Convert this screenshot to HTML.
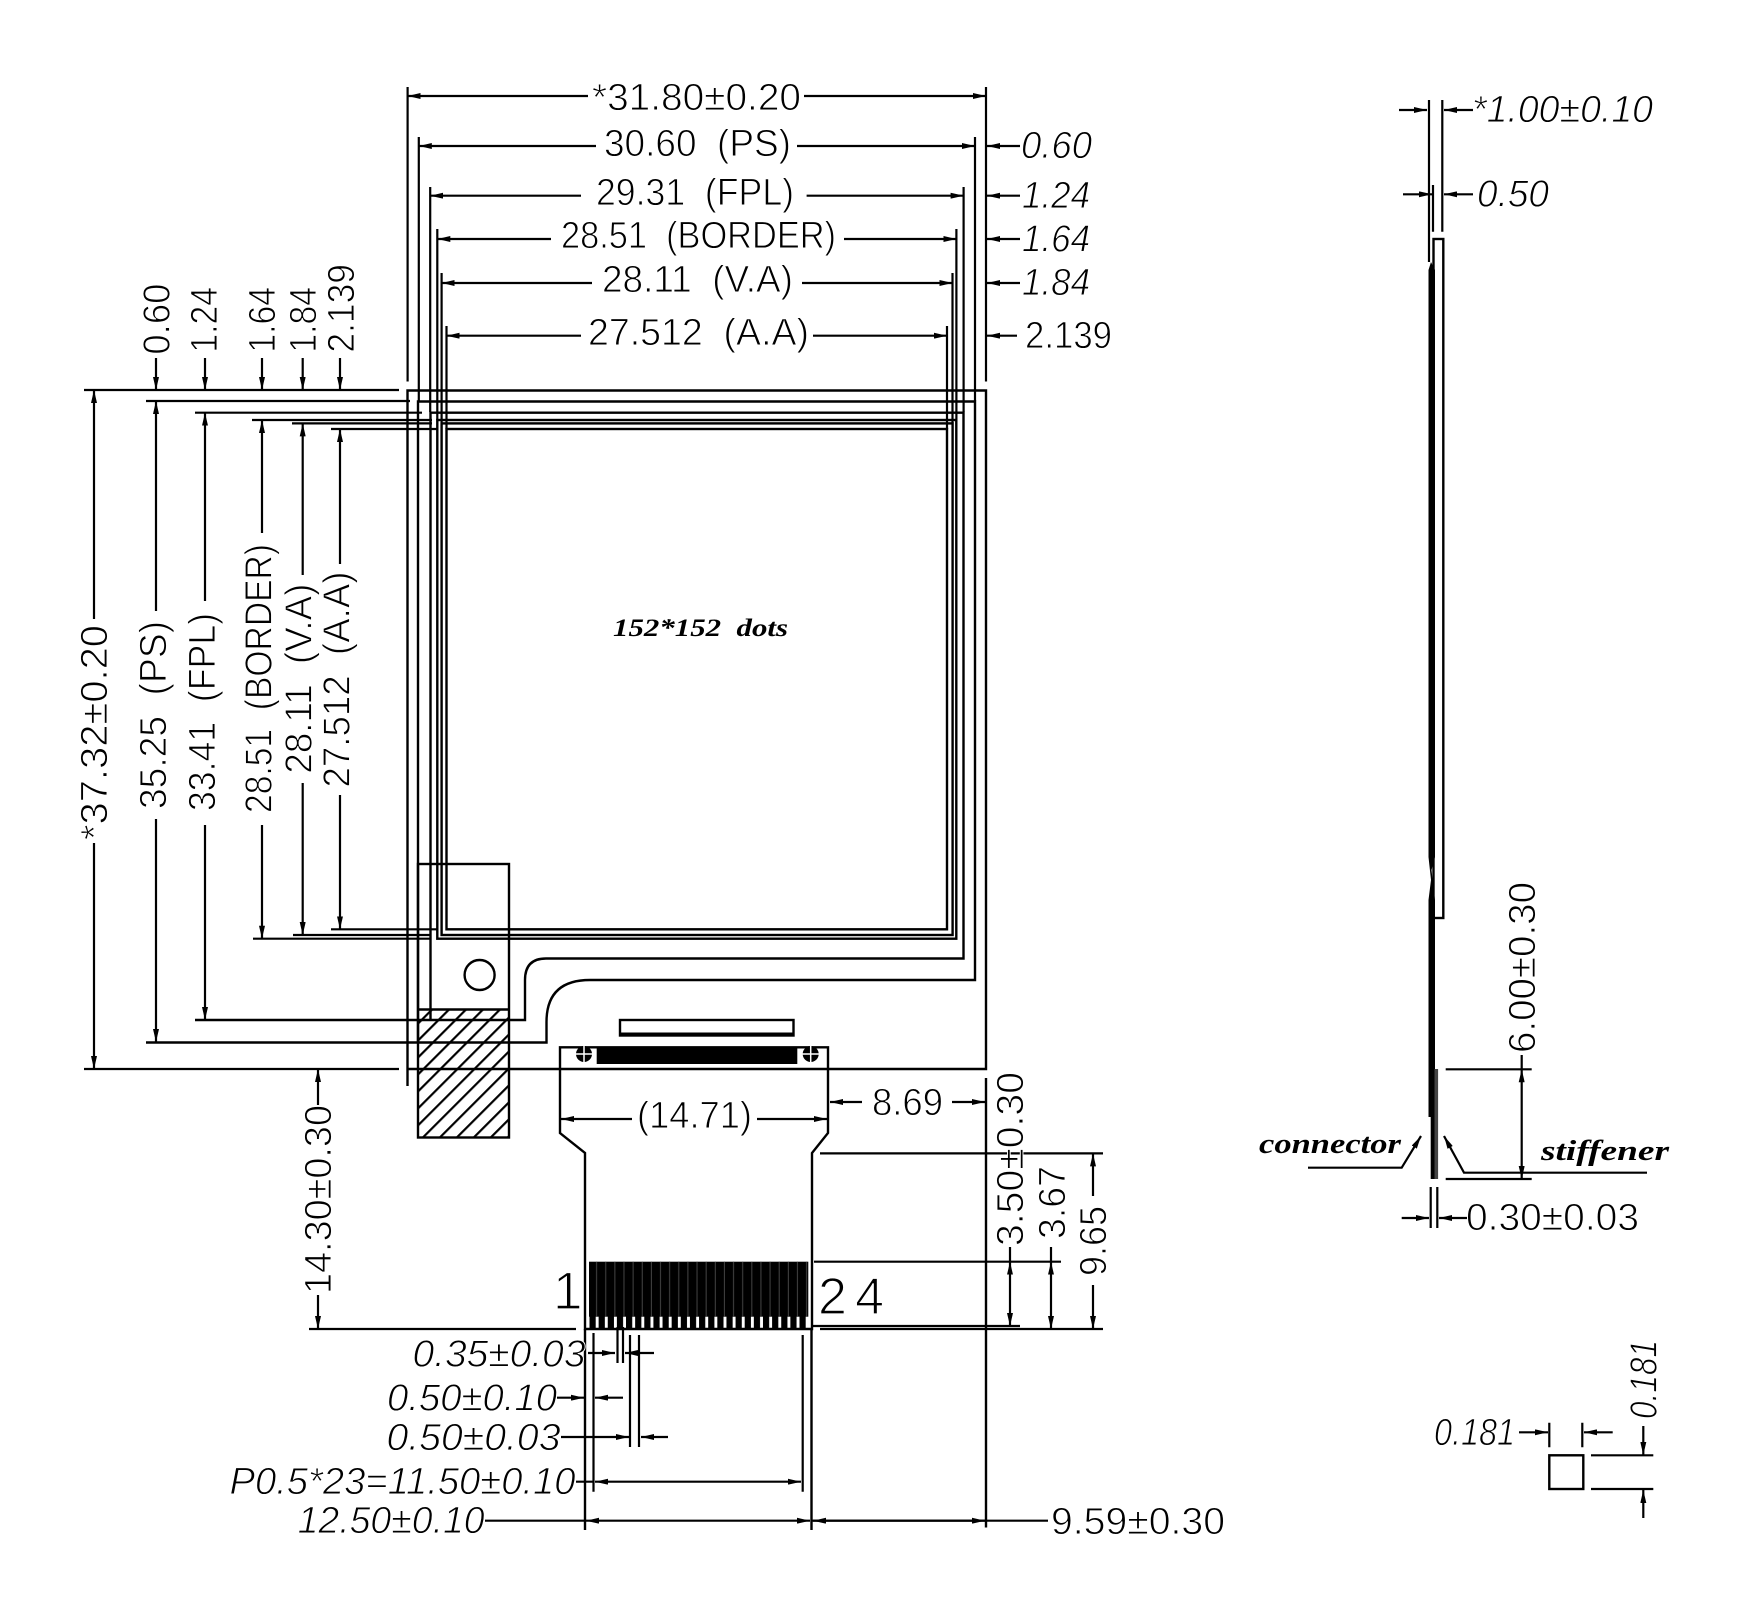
<!DOCTYPE html>
<html><head><meta charset="utf-8"><title>Drawing</title>
<style>
html,body{margin:0;padding:0;background:#fff}
svg{display:block;filter:blur(.35px)}
text{font-family:"Liberation Sans",sans-serif;font-size:38px;fill:#000;stroke:#fff;stroke-width:.9px}
.i{font-style:italic}
.lab{font-family:"Liberation Serif",serif;font-style:italic;font-weight:bold;stroke:none}
.l{fill:none;stroke:#000;stroke-width:2.4}
.d{fill:none;stroke:#000;stroke-width:2.2}
.a{fill:none;stroke:#000;stroke-width:2.2;marker-end:url(#a)}
</style></head><body>
<svg xmlns="http://www.w3.org/2000/svg" width="1757" height="1608" viewBox="0 0 1757 1608">
<defs>
<marker id="a" markerUnits="userSpaceOnUse" markerWidth="13" markerHeight="6" refX="13" refY="3" orient="auto"><path d="M0 0L13 3L0 6z" fill="#000"/></marker>
<pattern id="h" width="12" height="12" patternUnits="userSpaceOnUse" patternTransform="rotate(-45 418 1138)"><rect x="0" y="0" width="12" height="12" fill="#fff"/><rect x="0" y="0" width="12" height="2.2" fill="#000"/></pattern>
<pattern id="t" x="589.5" y="0" width="9.13" height="12" patternUnits="userSpaceOnUse"><rect x="0" width="6.2" height="12" fill="#000"/></pattern>
<pattern id="g" x="589.5" y="0" width="9.13" height="12" patternUnits="userSpaceOnUse"><rect x="6.6" width="1" height="12" fill="#444"/></pattern>
</defs>
<rect width="1757" height="1608" fill="#fff"/>

<!-- hatched flap -->
<rect x="418" y="1009.5" width="91" height="128" fill="url(#h)"/>
<rect class="l" x="418" y="864" width="91" height="273.5"/>
<path class="l" d="M418 1009.5H509"/>

<!-- outlines -->
<path class="l" d="M407.5 1086V390.5H986V1069H407.5"/>
<path class="l" d="M146 1042.5H546.5V1022Q546.5 980 590 980H975V401.5H418V1042.5"/>
<path class="l" d="M195 1020H525V980Q525 958.5 546 958.5H963.5V412.7H430.5V1020"/>
<rect class="l" x="437.3" y="420" width="519" height="518.7"/>
<rect class="l" x="441.6" y="423.4" width="511" height="511.6"/>
<rect class="l" x="446.5" y="429" width="500.5" height="500.3"/>
<circle class="l" cx="479.6" cy="975" r="15"/>

<!-- top extension lines -->
<path class="d" d="M407.6 87V381.5M986 87V381.5M418.8 137V401M975 137V401M430.2 187V412M963.6 187V412M437.3 229V420M956.4 229V420M441.6 273V423M952.5 273V423M446.5 326V429M947 326V429"/>
<!-- top dims -->
<path class="a" d="M588 96H407.6"/><path class="a" d="M804 96H986"/>
<path class="a" d="M596 146H418.8"/><path class="a" d="M797 146H975"/>
<path class="a" d="M581 195.7H430.2"/><path class="a" d="M806.6 195.7H963.6"/>
<path class="a" d="M551 239H437.3"/><path class="a" d="M844 239H956.4"/>
<path class="a" d="M592 283H441.6"/><path class="a" d="M802 283H952.5"/>
<path class="a" d="M581 335.7H446.5"/><path class="a" d="M813 335.7H947"/>
<path class="a" d="M1020 146H987"/><path class="a" d="M1020 195.7H987"/><path class="a" d="M1020 239H987"/><path class="a" d="M1020 283H987"/><path class="a" d="M1017 335.7H987"/>
<text x="592" y="110" textLength="209" lengthAdjust="spacingAndGlyphs">*31.80±0.20</text>
<text x="604" y="156" textLength="187" lengthAdjust="spacingAndGlyphs">30.60&#160;&#160;(PS)</text>
<text x="596" y="205" textLength="198" lengthAdjust="spacingAndGlyphs">29.31&#160;&#160;(FPL)</text>
<text x="561" y="248" textLength="275" lengthAdjust="spacingAndGlyphs">28.51&#160;&#160;(BORDER)</text>
<text x="602" y="292" textLength="191" lengthAdjust="spacingAndGlyphs">28.11&#160;&#160;(V.A)</text>
<text x="588" y="345" textLength="221" lengthAdjust="spacingAndGlyphs">27.512&#160;&#160;(A.A)</text>
<text class="i" x="1021" y="158" textLength="71" lengthAdjust="spacingAndGlyphs">0.60</text>
<text class="i" x="1022" y="208" textLength="68" lengthAdjust="spacingAndGlyphs">1.24</text>
<text class="i" x="1022" y="251.7" textLength="68" lengthAdjust="spacingAndGlyphs">1.64</text>
<text class="i" x="1022" y="295" textLength="68" lengthAdjust="spacingAndGlyphs">1.84</text>
<text x="1025" y="348" textLength="87" lengthAdjust="spacingAndGlyphs">2.139</text>

<!-- left extension lines -->
<path class="d" d="M84 390H399M146 401H410M195 412.7H422M252 420H432M292 423.4H432M331 429H438M331 929.3H437M293 935H431M253 938.7H431M84 1069H399M309 1069H399"/>
<!-- left vertical dims -->
<path class="a" d="M94 619V390"/><path class="a" d="M94 843V1069"/>
<path class="a" d="M156 611V401"/><path class="a" d="M156 819V1042"/>
<path class="a" d="M205 601V412.7"/><path class="a" d="M205 825V1020"/>
<path class="a" d="M262 533V420"/><path class="a" d="M262 825V938.7"/>
<path class="a" d="M302.7 575V423.4"/><path class="a" d="M302.7 783V935"/>
<path class="a" d="M340 564V429"/><path class="a" d="M340 795V929.3"/>
<path class="a" d="M156 358V390"/><path class="a" d="M205 358V390"/><path class="a" d="M262 358V390"/><path class="a" d="M302.7 358V390"/><path class="a" d="M340 358V390"/>
<text transform="translate(107 840) rotate(-90)" textLength="215" lengthAdjust="spacingAndGlyphs">*37.32±0.20</text>
<text transform="translate(166 809) rotate(-90)" textLength="188" lengthAdjust="spacingAndGlyphs">35.25&#160;&#160;(PS)</text>
<text transform="translate(215 811) rotate(-90)" textLength="198" lengthAdjust="spacingAndGlyphs">33.41&#160;&#160;(FPL)</text>
<text transform="translate(271.7 813) rotate(-90)" textLength="269" lengthAdjust="spacingAndGlyphs">28.51&#160;&#160;(BORDER)</text>
<text transform="translate(311.7 773.6) rotate(-90)" textLength="190" lengthAdjust="spacingAndGlyphs">28.11&#160;&#160;(V.A)</text>
<text transform="translate(349.3 787.5) rotate(-90)" textLength="216" lengthAdjust="spacingAndGlyphs">27.512&#160;&#160;(A.A)</text>
<text transform="translate(169.3 354.6) rotate(-90)" textLength="71" lengthAdjust="spacingAndGlyphs">0.60</text>
<text transform="translate(217 352.6) rotate(-90)" textLength="65.6" lengthAdjust="spacingAndGlyphs">1.24</text>
<text transform="translate(275 352.6) rotate(-90)" textLength="65.6" lengthAdjust="spacingAndGlyphs">1.64</text>
<text transform="translate(316 352.6) rotate(-90)" textLength="65.6" lengthAdjust="spacingAndGlyphs">1.84</text>
<text transform="translate(354 352.6) rotate(-90)" textLength="88.6" lengthAdjust="spacingAndGlyphs">2.139</text>

<text class="lab" x="613" y="636" style="font-size:25px" textLength="175" lengthAdjust="spacingAndGlyphs">152*152&#160;&#160;dots</text>

<!-- FPC -->
<path class="l" d="M560 1047.3H828V1133L812 1153V1329H585V1153L560 1133Z"/>
<rect class="l" x="620" y="1020" width="173.5" height="15.5"/>
<rect x="620" y="1032.5" width="173.5" height="3.5" fill="#000"/>
<rect x="596.7" y="1047" width="200.6" height="17" fill="#000"/>
<circle cx="584" cy="1054" r="8" fill="#000"/><path d="M584 1045V1063M575 1054H593" stroke="#fff" stroke-width="1.5"/>
<circle cx="810.7" cy="1054" r="8" fill="#000"/><path d="M810.7 1045V1063M802 1054H820" stroke="#fff" stroke-width="1.5"/>
<rect x="589" y="1261.7" width="219.3" height="55" fill="#000"/>
<rect x="589" y="1261.7" width="219.3" height="55" fill="url(#g)"/>
<rect x="589.5" y="1316" width="219" height="12.5" fill="url(#t)"/>
<path class="l" d="M585 1329V1530M811.5 1329V1530M986 1078V1527.5"/>
<path class="d" d="M593.5 1333V1491.7M802.7 1335V1491.7M617.5 1327V1363M623 1327V1363M630 1335V1447M639 1335V1447"/>
<text x="553" y="1309" style="font-size:53px;stroke-width:1.3px">1</text>
<text x="818" y="1314" style="font-size:52px;stroke-width:1.3px" textLength="66" lengthAdjust="spacing">24</text>
<!-- (14.71) -->
<path class="a" d="M632 1119H561"/><path class="a" d="M757 1119H827"/>
<text x="637" y="1128" textLength="115" lengthAdjust="spacingAndGlyphs">(14.71)</text>
<!-- 8.69 -->
<path class="a" d="M862 1102H830"/><path class="a" d="M952 1102H985"/>
<text x="872" y="1115" textLength="71" lengthAdjust="spacingAndGlyphs">8.69</text>
<!-- right stack -->
<path class="d" d="M820 1153.4H1103M814 1261.7H1061M820 1329H1103M813 1326H1020"/>
<path class="a" d="M1010 1294V1261.7"/><path class="a" d="M1010 1294V1326"/><path class="d" d="M1010 1262V1247"/>
<path class="a" d="M1051 1294V1261.7"/><path class="a" d="M1051 1294V1329"/><path class="d" d="M1051 1262V1247"/>
<path class="a" d="M1093 1196V1153.4"/><path class="a" d="M1093 1285V1329"/>
<text transform="translate(1023 1246) rotate(-90)" textLength="174" lengthAdjust="spacingAndGlyphs">3.50±0.30</text>
<text transform="translate(1065 1239) rotate(-90)" textLength="73" lengthAdjust="spacingAndGlyphs">3.67</text>
<text transform="translate(1106 1276) rotate(-90)" textLength="70" lengthAdjust="spacingAndGlyphs">9.65</text>
<!-- 14.30 -->
<path class="d" d="M309 1329H576"/>
<path class="a" d="M318 1105V1069"/><path class="a" d="M318 1295V1329"/>
<text transform="translate(331 1294) rotate(-90)" textLength="189" lengthAdjust="spacingAndGlyphs">14.30±0.30</text>
<!-- bottom dims -->
<path class="a" d="M588 1353H615"/><path class="a" d="M654 1353H625"/>
<path class="a" d="M557 1397.7H584"/><path class="a" d="M623 1397.7H595"/>
<path class="a" d="M561 1437H629"/><path class="a" d="M668 1437H641"/>
<path class="d" d="M576 1481.7H594"/><path class="a" d="M700 1481.7H595"/><path class="a" d="M700 1481.7H801"/>
<path class="d" d="M485 1520.7H585M811 1520.7H1048"/><path class="a" d="M700 1520.7H586"/><path class="a" d="M700 1520.7H810"/><path class="a" d="M900 1520.7H813"/><path class="a" d="M900 1520.7H985"/>
<text class="i" x="412.5" y="1366.7" textLength="173" lengthAdjust="spacingAndGlyphs">0.35±0.03</text>
<text class="i" x="387" y="1410.7" textLength="170" lengthAdjust="spacingAndGlyphs">0.50±0.10</text>
<text class="i" x="386.5" y="1450" textLength="174" lengthAdjust="spacingAndGlyphs">0.50±0.03</text>
<text class="i" x="229.5" y="1494" textLength="346" lengthAdjust="spacingAndGlyphs">P0.5*23=11.50±0.10</text>
<text class="i" x="297.6" y="1533" textLength="187" lengthAdjust="spacingAndGlyphs">12.50±0.10</text>
<text x="1051" y="1534" textLength="174" lengthAdjust="spacingAndGlyphs">9.59±0.30</text>

<!-- side view -->
<path class="d" d="M1429 100V262M1442.3 100V231.7M1433 185V231.7"/>
<rect class="l" x="1433.5" y="239" width="9.8" height="679"/>
<path d="M1428.5 270L1431 262L1435 270V857L1431.5 870L1435 900V1069H1437.5V1179H1430.7V1117H1428.5V900L1431 880L1428.5 857Z" fill="#000"/>
<rect x="1434.5" y="1069" width="3.6" height="110" fill="#444"/>
<path class="a" d="M1399 110H1427"/><path class="a" d="M1473 110H1444"/>
<path class="a" d="M1403 194.3H1432"/><path class="a" d="M1473 194.3H1444"/>
<text class="i" x="1472" y="122" textLength="181" lengthAdjust="spacingAndGlyphs">*1.00±0.10</text>
<text class="i" x="1477" y="206.7" textLength="72" lengthAdjust="spacingAndGlyphs">0.50</text>
<path class="d" d="M1445.7 1069.3H1531.7M1445.7 1179H1531.7M1521.7 1055V1070"/>
<path class="a" d="M1521.7 1125V1069.3"/><path class="a" d="M1521.7 1125V1179"/>
<text transform="translate(1535 1053) rotate(-90)" textLength="171" lengthAdjust="spacingAndGlyphs">6.00±0.30</text>
<text class="lab" x="1259" y="1153" style="font-size:28px" textLength="142" lengthAdjust="spacingAndGlyphs">connector</text>
<text class="lab" x="1541" y="1160" style="font-size:28px" textLength="128" lengthAdjust="spacingAndGlyphs">stiffener</text>
<path class="a" d="M1308 1167.7H1401.7L1421 1136"/>
<path class="a" d="M1647 1172.7H1464L1444 1136"/>
<path class="d" d="M1430.7 1187V1228M1437.3 1187V1228"/>
<path class="a" d="M1401.7 1218H1429"/><path class="a" d="M1467 1218H1439"/>
<text x="1466" y="1230" textLength="173" lengthAdjust="spacingAndGlyphs">0.30±0.03</text>

<!-- square -->
<rect class="l" x="1549.3" y="1455.3" width="34" height="33.7"/>
<path class="d" d="M1549.3 1422.7V1447.3M1582.3 1422.7V1447.3M1591 1455.3H1653.3M1591 1489H1653.3"/>
<path class="a" d="M1519 1432.3H1548"/><path class="a" d="M1612.7 1432.3H1584"/>
<path class="a" d="M1643.3 1426V1455"/><path class="a" d="M1643.3 1518V1490"/>
<text class="i" x="1434" y="1445" textLength="81" lengthAdjust="spacingAndGlyphs">0.181</text>
<text class="i" transform="translate(1656.7 1419) rotate(-90)" textLength="79" lengthAdjust="spacingAndGlyphs">0.181</text>
</svg>
</body></html>
